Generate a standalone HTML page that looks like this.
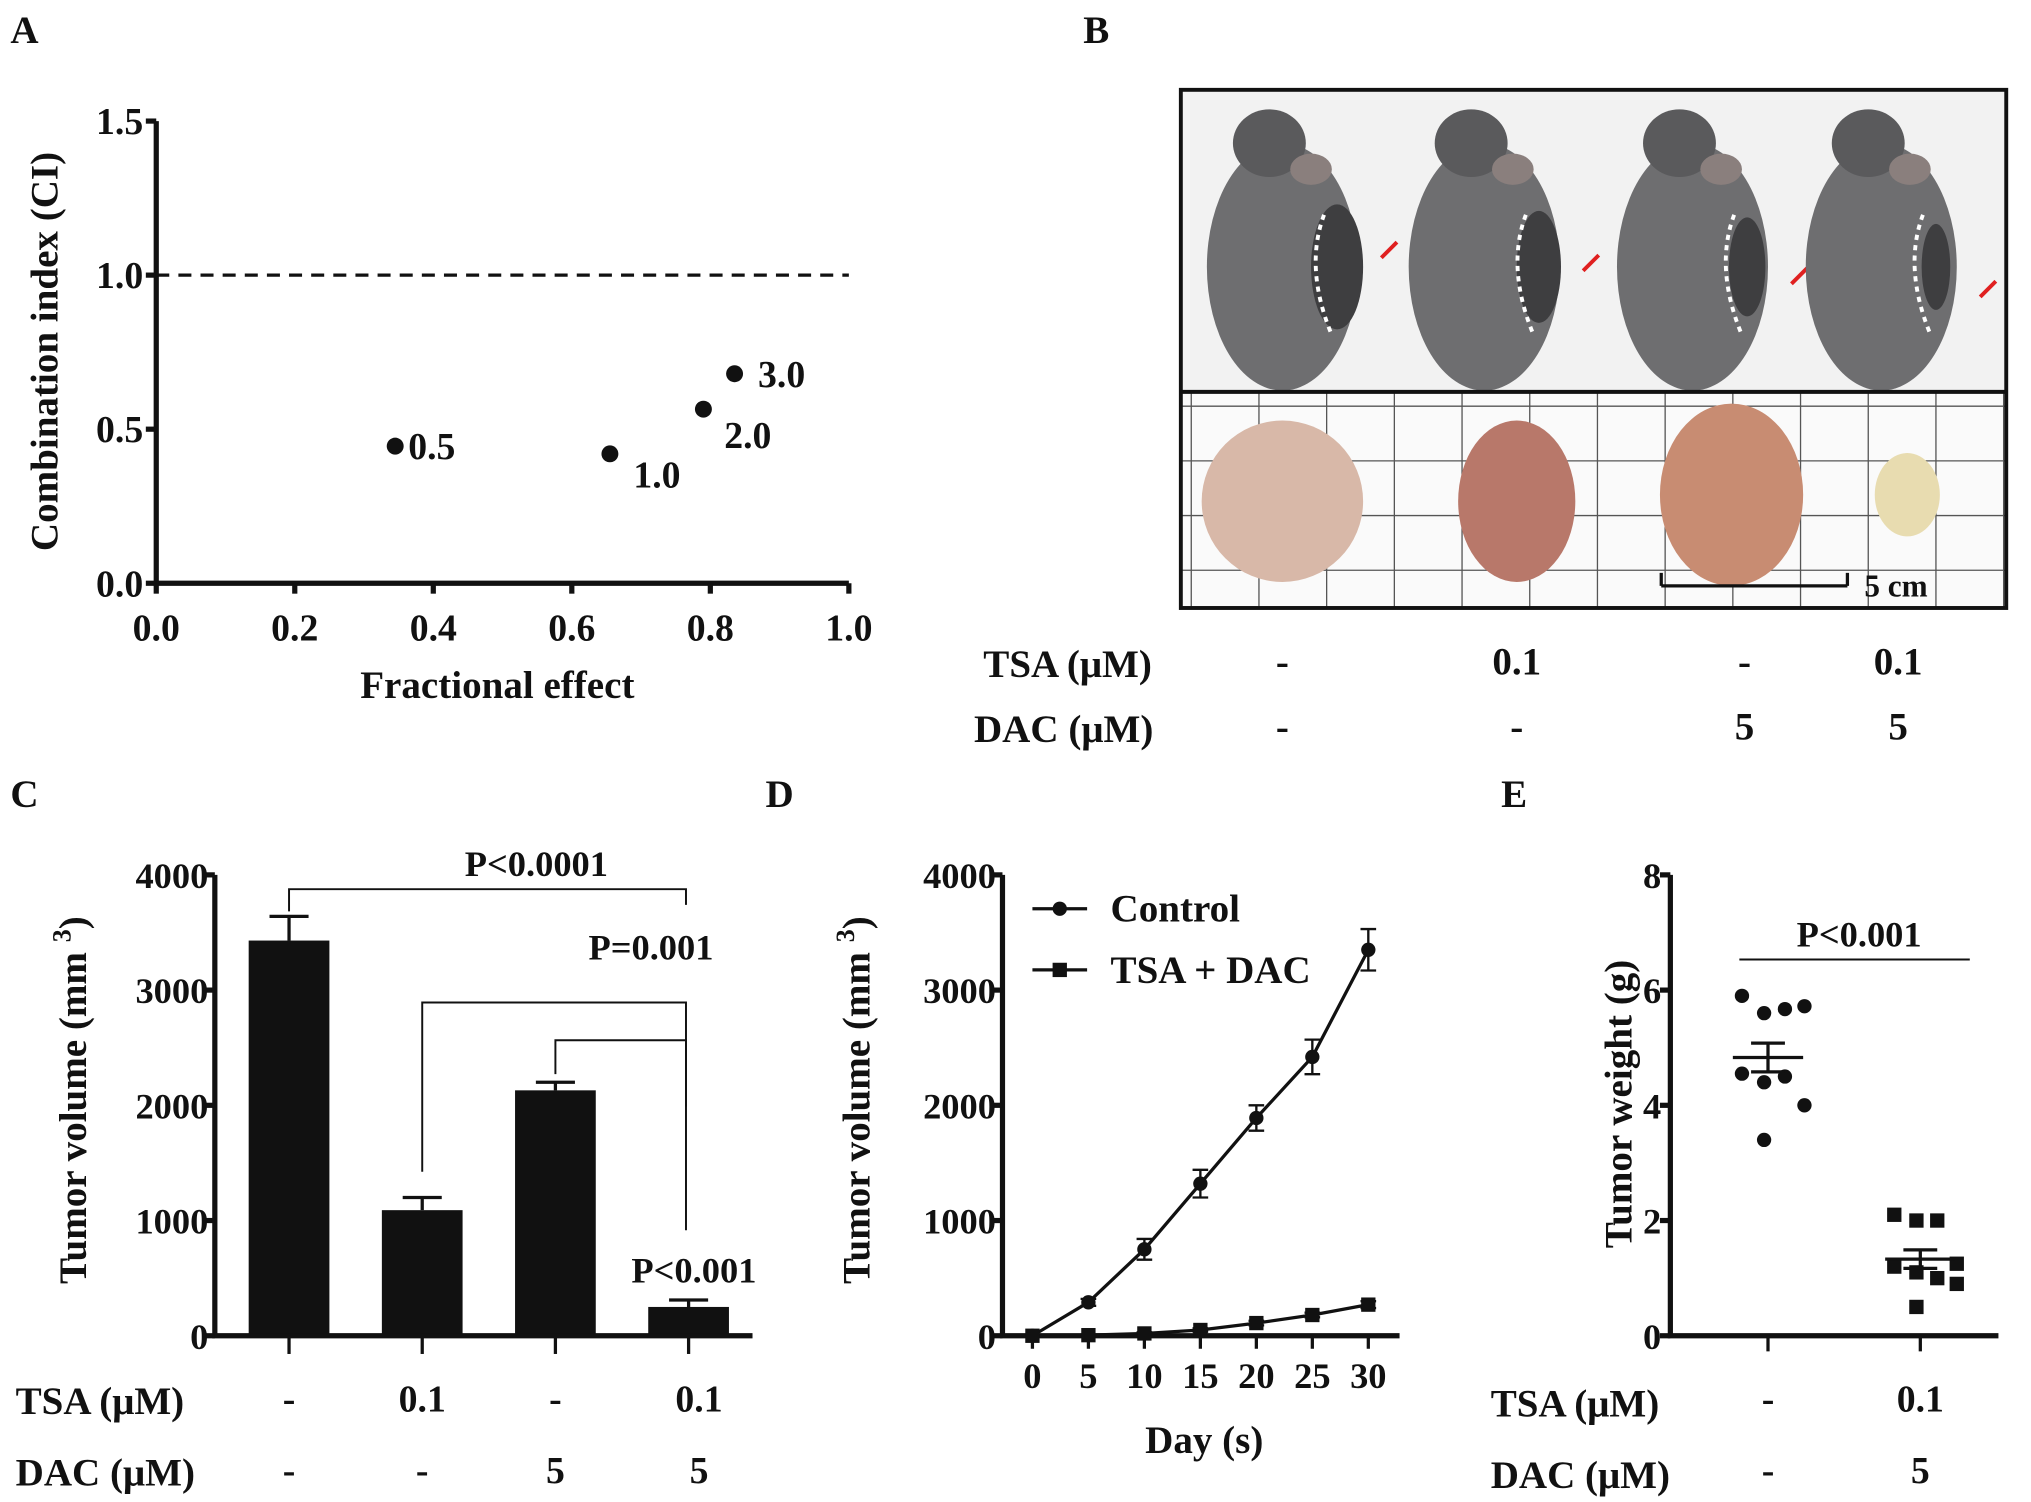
<!DOCTYPE html>
<html><head><meta charset="utf-8"><style>
html,body{margin:0;padding:0;background:#fff}
svg{display:block}
text{font-family:"Liberation Serif",serif;font-weight:bold;fill:#111}
</style></head><body>
<svg id="fig" width="2031" height="1502" viewBox="0 0 1560 1153.7" xmlns="http://www.w3.org/2000/svg">
<g id="A"></g>
<g id="B"></g>
<g id="C"></g>
<g id="D"></g>
<g id="E"></g>
</svg>
<script>
// Panel A data
const aFa = [0.345, 0.655, 0.79, 0.835];
const aCI = [0.445, 0.42, 0.565, 0.68];
const aLabels = ["0.5", "1.0", "2.0", "3.0"];
const aXTicks = [0, 0.2, 0.4, 0.6, 0.8, 1.0];
const aYTicks = [0, 0.5, 1.0, 1.5];
// Panel C data
const cGroups = ["g1", "g2", "g3", "g4"];
const cMeans = [3430, 1090, 2130, 250];
const cErr = [210, 110, 70, 60];
const cTSA = ["-", "0.1", "-", "0.1"];
const cDAC = ["-", "-", "5", "5"];
const cYTicks = [0, 1000, 2000, 3000, 4000];
// Panel D data
const dDays = [0, 5, 10, 15, 20, 25, 30];
const dControl = [0, 290, 750, 1320, 1890, 2420, 3350];
const dControlErr = [0, 30, 90, 120, 110, 150, 180];
const dTreat = [0, 5, 20, 50, 110, 180, 270];
const dTreatErr = [0, 5, 10, 15, 20, 20, 30];
const dYTicks = [0, 1000, 2000, 3000, 4000];
// Panel E data
const eControl = [5.9, 5.6, 5.67, 5.72, 4.55, 4.4, 4.5, 4.0, 3.4];
const eTreat = [2.1, 2.0, 2.0, 1.25, 1.2, 1.1, 1.0, 0.9, 0.5];
const eMeans = [4.83, 1.33];
const eSEM = [0.25, 0.16];
const eYTicks = [0, 2, 4, 6, 8];
const bTSA = ["-", "0.1", "-", "0.1"];
const bDAC = ["-", "-", "5", "5"];

const NS = "http://www.w3.org/2000/svg";
function mk(parent, tag, attrs, txt) {
  const el = document.createElementNS(NS, tag);
  for (const k in attrs) el.setAttribute(k, attrs[k]);
  if (txt !== undefined) el.textContent = txt;
  parent.appendChild(el);
  return el;
}
function volTitle(g, tx, ty) {
  const yt = mk(g,'text',{x:0,y:0,'font-size':30,'text-anchor':'middle',transform:`translate(${tx},${ty}) rotate(-90)`});
  
  
  mk(yt,'tspan',{},'Tumor volume (mm ');
  mk(yt,'tspan',{dy:-12,'font-size':20},'3');
  mk(yt,'tspan',{dy:12},')');
}

// ---------- Panel A ----------
(function(){
  const g = document.getElementById('A');
  const X = v => 120 + v * 532, Y = v => 448 - v / 1.5 * 355;
  let t = mk(g,'text',{x:8,y:33,'font-size':30}, 'A');
   
  let ax = mk(g,'path',{d:`M${X(0)},${Y(1.5)} V${Y(0)} H${X(1)}`,stroke:'#111','stroke-width':4,fill:'none'});
   
  aYTicks.forEach(v=>{
    mk(g,'line',{x1:X(0)-8,x2:X(0),y1:Y(v),y2:Y(v),stroke:'#111','stroke-width':4});
    let l = mk(g,'text',{x:X(0)-10,y:Y(v)+10,'font-size':29,'text-anchor':'end'}, v.toFixed(1));
     
  });
  aXTicks.forEach(v=>{
    mk(g,'line',{x1:X(v),x2:X(v),y1:Y(0),y2:Y(0)+8,stroke:'#111','stroke-width':4});
    let l = mk(g,'text',{x:X(v),y:Y(0)+44,'font-size':29,'text-anchor':'middle'}, v.toFixed(1));
     
  });
  let d = mk(g,'line',{x1:X(0),x2:X(1),y1:Y(1),y2:Y(1),stroke:'#111','stroke-width':2.5,'stroke-dasharray':'10,7'});
   
  const off = [[10,10],[18,26],[16,30],[18,10]];
  aFa.forEach((v,i)=>{
    let c = mk(g,'circle',{cx:X(v),cy:Y(aCI[i]),r:6.5,fill:'#111'});
     
    let l = mk(g,'text',{x:X(v)+off[i][0],y:Y(aCI[i])+off[i][1],'font-size':29}, aLabels[i]);
     
  });
  let xt = mk(g,'text',{x:382,y:536,'font-size':30,'text-anchor':'middle'},'Fractional effect');
   
  let yt = mk(g,'text',{x:0,y:0,'font-size':30,'text-anchor':'middle',transform:'translate(44,270) rotate(-90)'},'Combination index (CI)');
   
})();

// ---------- Panel B ----------
(function(){
  const g = document.getElementById('B');
  let t = mk(g,'text',{x:832,y:33,'font-size':30},'B');
   
  mk(g,'rect',{x:907,y:69,width:634,height:398,fill:'#f2f2f2'});
  const mx = [985, 1140, 1300, 1445];
  mx.forEach((x,i)=>{
    let m = mk(g,'g',{});
     
    mk(m,'ellipse',{cx:x,cy:205,rx:58,ry:95,fill:'#6e6e70'});
    mk(m,'ellipse',{cx:x-10,cy:110,rx:28,ry:26,fill:'#5a5a5c'});
    mk(m,'ellipse',{cx:x+22,cy:130,rx:16,ry:12,fill:'#8a7f7d'});
    mk(m,'ellipse',{cx:x+42,cy:205,rx:20-i*3,ry:48-i*5,fill:'#3e3e40'});
    mk(m,'path',{d:`M${x+32},165 q-15,40 5,90`,stroke:'#fff','stroke-width':3,'stroke-dasharray':'4,4',fill:'none'});
    mk(m,'line',{x1:x+88,y1:186+i*10,x2:x+76,y2:198+i*10,stroke:'#e02020','stroke-width':3});
  });
  mk(g,'rect',{x:907,y:301,width:634,height:166,fill:'#fafafa'});
  for (let gx=915; gx<1541; gx+=52) mk(g,'line',{x1:gx,x2:gx,y1:301,y2:467,stroke:'#555','stroke-width':1});
  for (let gy=312; gy<467; gy+=42) mk(g,'line',{x1:907,x2:1541,y1:gy,y2:gy,stroke:'#555','stroke-width':1});
  const tum = [[985,385,62,62,'#d8b8a8'],[1165,385,45,62,'#b8786a'],[1330,380,55,70,'#c88c72'],[1465,380,25,32,'#e8dcb0']];
  tum.forEach(tm=>{
    let e = mk(g,'ellipse',{cx:tm[0],cy:tm[1],rx:tm[2],ry:tm[3],fill:tm[4]});
     
  });
  mk(g,'path',{d:'M1276,440 v10 M1276,450 H1419 M1419,440 v10',stroke:'#111','stroke-width':2.5,fill:'none'});
  let sb = mk(g,'text',{x:1432,y:458,'font-size':24},'5 cm');
   
  mk(g,'line',{x1:907,x2:1541,y1:301,y2:301,stroke:'#111','stroke-width':3});
  let fr = mk(g,'rect',{x:907,y:69,width:634,height:398,fill:'none',stroke:'#111','stroke-width':3});
   
  let r1 = mk(g,'text',{x:820,y:520,'font-size':30,'text-anchor':'middle'},'TSA (μM)');
   
  let r2 = mk(g,'text',{x:817,y:570,'font-size':30,'text-anchor':'middle'},'DAC (μM)');
   
  const bx = [985,1165,1340,1458];
  bTSA.forEach((v,i)=>{ let l=mk(g,'text',{x:bx[i],y:518,'font-size':30,'text-anchor':'middle'},v);   });
  bDAC.forEach((v,i)=>{ let l=mk(g,'text',{x:bx[i],y:568,'font-size':30,'text-anchor':'middle'},v);   });
})();

// ---------- Panel C ----------
(function(){
  const g = document.getElementById('C');
  const Y = v => 1026 - v / 4000 * 354;
  const X = i => 222 + i * 102.3;
  let t = mk(g,'text',{x:8,y:620,'font-size':30},'C');
   
  cMeans.forEach((v,i)=>{
    let b = mk(g,'rect',{x:X(i)-31,y:Y(v),width:62,height:Y(0)-Y(v),fill:'#111'});
     
    let e = mk(g,'path',{d:`M${X(i)},${Y(v)} V${Y(v+cErr[i])} M${X(i)-15},${Y(v+cErr[i])} H${X(i)+15}`,stroke:'#111','stroke-width':2.5,fill:'none'});
     
    mk(g,'line',{x1:X(i),x2:X(i),y1:Y(0),y2:Y(0)+14,stroke:'#111','stroke-width':2.5});
  });
  let ax = mk(g,'path',{d:`M165,${Y(4000)} V${Y(0)} H578`,stroke:'#111','stroke-width':4,fill:'none'});
   
  cYTicks.forEach(v=>{
    mk(g,'line',{x1:157,x2:165,y1:Y(v),y2:Y(v),stroke:'#111','stroke-width':4});
    let l = mk(g,'text',{x:160,y:Y(v)+10,'font-size':28,'text-anchor':'end'},String(v));
     
  });
  const br = [[0,3,683,700,695,'P<0.0001',412,673],[1,3,770,900,850,'P=0.001',500,737],[2,3,799,825,945,'',0,0]];
  br.forEach(b=>{
    let p = mk(g,'path',{d:`M${X(b[0])},${b[3]} V${b[2]} H${X(b[1])-2} V${b[4]}`,stroke:'#111','stroke-width':1.5,fill:'none'});
     
    if (b[5]) { let l = mk(g,'text',{x:b[6],y:b[7],'font-size':28,'text-anchor':'middle'},b[5]);   }
  });
  let pl = mk(g,'text',{x:533,y:985,'font-size':28,'text-anchor':'middle'},'P<0.001');
   
  volTitle(g, 66, 845);
  let r1 = mk(g,'text',{x:12,y:1086,'font-size':30},'TSA  (μM)');
   
  let r2 = mk(g,'text',{x:12,y:1141,'font-size':30},'DAC (μM)');
   
  cTSA.forEach((v,i)=>{ let l=mk(g,'text',{x:X(i)+(i===3?8:0),y:1084,'font-size':29,'text-anchor':'middle'},v);   });
  cDAC.forEach((v,i)=>{ let l=mk(g,'text',{x:X(i)+(i===3?8:0),y:1139,'font-size':29,'text-anchor':'middle'},v);   });
})();

// ---------- Panel D ----------
(function(){
  const g = document.getElementById('D');
  const Y = v => 1026 - v / 4000 * 354;
  const X = d => 793 + d / 30 * 258;
  let t = mk(g,'text',{x:588,y:620,'font-size':30},'D');
   
  let ax = mk(g,'path',{d:`M770,${Y(4000)} V${Y(0)} H1075`,stroke:'#111','stroke-width':4,fill:'none'});
   
  dYTicks.forEach(v=>{
    mk(g,'line',{x1:762,x2:770,y1:Y(v),y2:Y(v),stroke:'#111','stroke-width':4});
    let l = mk(g,'text',{x:765,y:Y(v)+10,'font-size':28,'text-anchor':'end'},String(v));
     
  });
  dDays.forEach(d=>{
    mk(g,'line',{x1:X(d),x2:X(d),y1:Y(0),y2:Y(0)+10,stroke:'#111','stroke-width':2.5});
    let l = mk(g,'text',{x:X(d),y:1066,'font-size':28,'text-anchor':'middle'},String(d));
     
  });
  function series(vals, errs, shape, name) {
    let p = mk(g,'polyline',{points:dDays.map((d,i)=>X(d)+','+Y(vals[i])).join(' '),stroke:'#111','stroke-width':2.5,fill:'none'});
     
    dDays.forEach((d,i)=>{
      if (errs[i]>0) {
        let e = mk(g,'path',{d:`M${X(d)},${Y(vals[i]-errs[i])} V${Y(vals[i]+errs[i])} M${X(d)-6},${Y(vals[i]+errs[i])} h12 M${X(d)-6},${Y(vals[i]-errs[i])} h12`,stroke:'#111','stroke-width':1.8,fill:'none'});
         
      }
      let m = shape==='c' ? mk(g,'circle',{cx:X(d),cy:Y(vals[i]),r:5.5,fill:'#111'})
                          : mk(g,'rect',{x:X(d)-5.5,y:Y(vals[i])-5.5,width:11,height:11,fill:'#111'});
       
    });
  }
  series(dControl, dControlErr, 'c', 'control');
  series(dTreat, dTreatErr, 's', 'tsa-dac');
  let le1 = mk(g,'g',{});  
  mk(le1,'line',{x1:793,x2:835,y1:698,y2:698,stroke:'#111','stroke-width':2.5});
  mk(le1,'circle',{cx:814,cy:698,r:5.5,fill:'#111'});
  mk(le1,'text',{x:853,y:708,'font-size':30},'Control');
  let le2 = mk(g,'g',{});  
  mk(le2,'line',{x1:793,x2:835,y1:745,y2:745,stroke:'#111','stroke-width':2.5});
  mk(le2,'rect',{x:808.5,y:739.5,width:11,height:11,fill:'#111'});
  mk(le2,'text',{x:853,y:755,'font-size':30},'TSA + DAC');
  let xt = mk(g,'text',{x:925,y:1116,'font-size':30,'text-anchor':'middle'},'Day (s)');
   
  volTitle(g, 668, 845);
})();

// ---------- Panel E ----------
(function(){
  const g = document.getElementById('E');
  const Y = v => 1026 - v / 8 * 354;
  const gx = [1358, 1475];
  let t = mk(g,'text',{x:1153,y:620,'font-size':30},'E');
   
  let ax = mk(g,'path',{d:`M1283,${Y(8)} V${Y(0)} H1535`,stroke:'#111','stroke-width':4,fill:'none'});
   
  eYTicks.forEach(v=>{
    mk(g,'line',{x1:1275,x2:1283,y1:Y(v),y2:Y(v),stroke:'#111','stroke-width':4});
    let l = mk(g,'text',{x:1276,y:Y(v)+10,'font-size':28,'text-anchor':'end'},String(v));
     
  });
  gx.forEach(x=> mk(g,'line',{x1:x,x2:x,y1:Y(0),y2:Y(0)+12,stroke:'#111','stroke-width':2.5}));
  const jit = [-20,-3,13,28,-20,-3,13,28,-3];
  eControl.forEach((v,i)=>{
    let c = mk(g,'circle',{cx:gx[0]+jit[i],cy:Y(v),r:5.5,fill:'#111'});
     
  });
  eTreat.forEach((v,i)=>{
    let r = mk(g,'rect',{x:gx[1]+jit[i]-5.5,y:Y(v)-5.5,width:11,height:11,fill:'#111'});
     
  });
  eMeans.forEach((m,i)=>{
    let p = mk(g,'path',{d:`M${gx[i]-27},${Y(m)} H${gx[i]+27} M${gx[i]},${Y(m-eSEM[i])} V${Y(m+eSEM[i])} M${gx[i]-13},${Y(m+eSEM[i])} h26 M${gx[i]-13},${Y(m-eSEM[i])} h26`,stroke:'#111','stroke-width':2.5,fill:'none'});
     
  });
  let sl = mk(g,'line',{x1:1336,x2:1513,y1:737,y2:737,stroke:'#111','stroke-width':1.5});
   
  let pl = mk(g,'text',{x:1428,y:727,'font-size':28,'text-anchor':'middle'},'P<0.001');
   
  let yt = mk(g,'text',{x:0,y:0,'font-size':30,'text-anchor':'middle',transform:'translate(1253,848) rotate(-90)'},'Tumor weight (g)');
   
  let r1 = mk(g,'text',{x:1145,y:1088,'font-size':30},'TSA  (μM)');
   
  let r2 = mk(g,'text',{x:1145,y:1143,'font-size':30},'DAC (μM)');
   
  [["-","-"],["0.1","5"]].forEach((p,i)=>{
    let a = mk(g,'text',{x:gx[i],y:1084,'font-size':29,'text-anchor':'middle'},p[0]);  
    let b = mk(g,'text',{x:gx[i],y:1139,'font-size':29,'text-anchor':'middle'},p[1]);  
  });
})();
</script>
</body></html>
